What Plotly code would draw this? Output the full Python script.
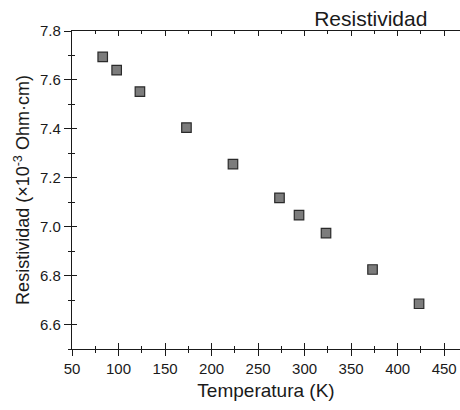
import plotly.graph_objects as go

temperatura = [83, 98, 123, 173, 223, 273, 294, 323, 373, 423]
resistividad = [7.694, 7.640, 7.552, 7.405, 7.256, 7.118, 7.047, 6.974, 6.825, 6.685]

x_ticks = [50, 100, 150, 200, 250, 300, 350, 400, 450]
y_ticks = [6.6, 6.8, 7.0, 7.2, 7.4, 7.6, 7.8]
x_range = [50, 467]
y_range = [6.5, 7.8]

FONT = "Liberation Sans, Arial, sans-serif"
INK = "#1a1a1a"

fig = go.Figure()
fig.add_trace(go.Scatter(
    x=temperatura, y=resistividad, mode="markers",
    marker=dict(symbol="square", size=9.5, color="#7c7c7c",
                line=dict(color="#2a2a2a", width=1.2)),
    showlegend=False, hoverinfo="skip", cliponaxis=False,
))
# invisible helper traces anchoring the tick-only overlay axes
fig.add_trace(go.Scatter(x=temperatura, y=resistividad, mode="markers",
                         marker=dict(opacity=0), xaxis="x2", yaxis="y2",
                         showlegend=False, hoverinfo="skip"))
fig.add_trace(go.Scatter(x=temperatura, y=resistividad, mode="markers",
                         marker=dict(opacity=0), xaxis="x3", yaxis="y2",
                         showlegend=False, hoverinfo="skip"))

common_x = dict(range=x_range, tickvals=x_ticks, showgrid=False, zeroline=False,
                linecolor=INK, linewidth=1.2, tickcolor=INK, tickwidth=1.2)
common_y = dict(range=y_range, tickvals=y_ticks, showgrid=False, zeroline=False,
                linecolor=INK, linewidth=1.2, tickcolor=INK, tickwidth=1.2)

fig.update_layout(
    width=460, height=410,
    margin=dict(l=72, r=0, t=31, b=61),
    paper_bgcolor="white", plot_bgcolor="white",
    font=dict(family=FONT, color=INK),
    title=dict(text="Resistividad", x=0.806, xanchor="center",
               y=0.955, yanchor="middle",
               font=dict(size=21, family=FONT, color=INK)),
    xaxis=dict(**common_x, showline=True, ticks="outside", ticklen=6,
               ticktext=[str(v) for v in x_ticks],
               tickfont=dict(size=15, family=FONT, color=INK),
               minor=dict(ticks="outside", ticklen=3, dtick=25, tickcolor=INK, tickwidth=1),
               title=dict(text="Temperatura (K)", font=dict(size=19, family=FONT, color=INK),
                          standoff=7)),
    xaxis2=dict(**common_x, overlaying="x", side="bottom", anchor="y2", showline=False,
                ticks="inside", ticklen=6, showticklabels=False,
                minor=dict(ticks="inside", ticklen=3, dtick=25, tickcolor=INK, tickwidth=1)),
    xaxis3=dict(**common_x, overlaying="x", side="top", anchor="y2", showline=True,
                ticks="inside", ticklen=5, showticklabels=False,
                minor=dict(ticks="inside", ticklen=3, dtick=25, tickcolor=INK, tickwidth=1)),
    yaxis=dict(**common_y, showline=True, ticks="outside", ticklen=7,
               tickformat=".1f",
               tickfont=dict(size=15, family=FONT, color=INK),
               minor=dict(ticks="outside", ticklen=3, dtick=0.1, tickcolor=INK, tickwidth=1),
               title=dict(text="Resistividad (×10<sup>-3</sup> Ohm·cm)",
                          font=dict(size=18, family=FONT, color=INK), standoff=5)),
    yaxis2=dict(**common_y, overlaying="y", side="left", anchor="x2", showline=False,
                ticks="inside", ticklen=5, showticklabels=False,
                minor=dict(ticks="inside", ticklen=3, dtick=0.1, tickcolor=INK, tickwidth=1)),
)

fig.write_html("out.html")
